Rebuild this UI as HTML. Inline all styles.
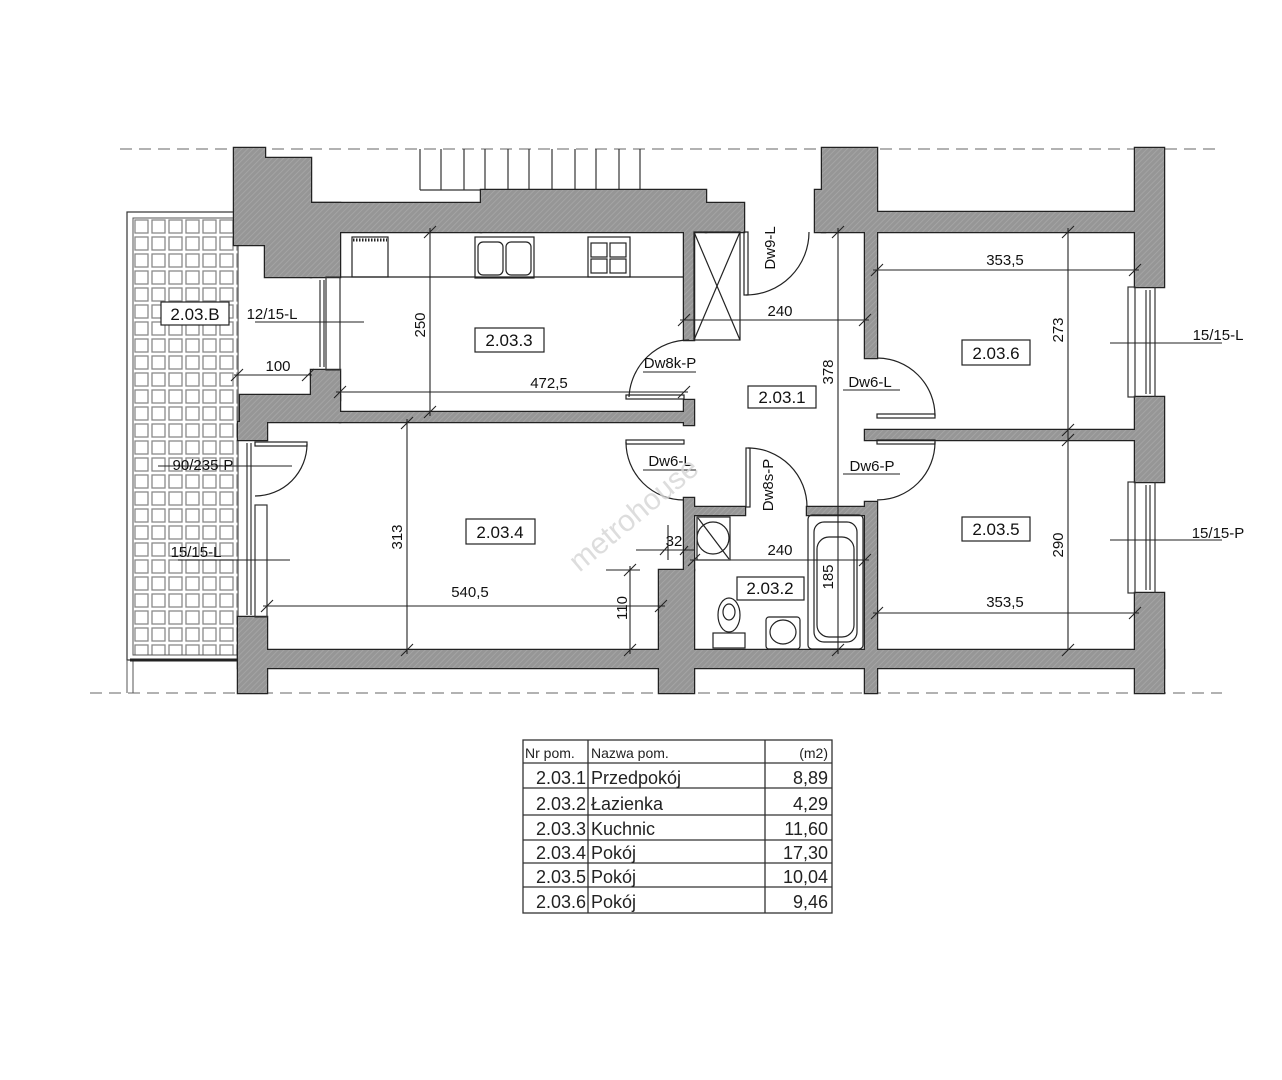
<!DOCTYPE html>
<html><head><meta charset="utf-8"><style>
html,body{margin:0;padding:0;background:#fff;}
svg{display:block;}
.t{font-family:"Liberation Sans",sans-serif;font-size:15px;fill:#111;}
.b{font-family:"Liberation Sans",sans-serif;font-size:17px;fill:#111;}
</style></head><body>
<svg width="1282" height="1080" viewBox="0 0 1282 1080" xmlns="http://www.w3.org/2000/svg">
<defs>
<pattern id="h" width="4" height="4" patternUnits="userSpaceOnUse" patternTransform="rotate(45)">
<rect width="4" height="4" fill="#969696"/><line x1="0" y1="0" x2="0" y2="4" stroke="#a8a8a8" stroke-width="1.5"/>
</pattern>
<pattern id="g" x="133" y="218" width="17" height="17" patternUnits="userSpaceOnUse">
<rect width="17" height="17" fill="#fff"/><rect x="2" y="2" width="13" height="13" fill="#fff" stroke="#8a8a8a" stroke-width="1.3"/>
</pattern>
</defs>
<line x1="120" y1="149" x2="1222" y2="149" stroke="#999" stroke-width="1.5" stroke-dasharray="12 7"/>
<line x1="90" y1="693" x2="1222" y2="693" stroke="#999" stroke-width="1.5" stroke-dasharray="12 7"/>
<rect x="127" y="212" width="111" height="448" fill="#fff" stroke="#333" stroke-width="1.2"/>
<rect x="133" y="218" width="105" height="437" fill="url(#g)" stroke="#555" stroke-width="1"/>
<line x1="127" y1="660" x2="127" y2="693" stroke="#555"/><line x1="133" y1="660" x2="133" y2="693" stroke="#555"/>
<line x1="130" y1="660" x2="238" y2="660" stroke="#222" stroke-width="3"/>
<g stroke="#333" stroke-width="1.2">
<line x1="420" y1="149" x2="420" y2="190"/><line x1="441" y1="149" x2="441" y2="190"/><line x1="464" y1="149" x2="464" y2="190"/><line x1="485" y1="149" x2="485" y2="190"/><line x1="508" y1="149" x2="508" y2="190"/><line x1="529" y1="149" x2="529" y2="190"/><line x1="552" y1="149" x2="552" y2="190"/><line x1="575" y1="149" x2="575" y2="190"/><line x1="596" y1="149" x2="596" y2="190"/><line x1="619" y1="149" x2="619" y2="190"/><line x1="640" y1="149" x2="640" y2="190"/>
<line x1="420" y1="190" x2="481" y2="190"/>
</g>
<g stroke="#222" stroke-width="2.5">
<rect x="234" y="148" width="31" height="97"/><rect x="265" y="158" width="46" height="119"/><rect x="311" y="203" width="29" height="74"/><rect x="311" y="203" width="170" height="29"/><rect x="481" y="190" width="225" height="42"/><rect x="706" y="203" width="38" height="29"/><rect x="311" y="370" width="29" height="30"/><rect x="240" y="395" width="100" height="27"/><rect x="340" y="412" width="344" height="10"/><rect x="238" y="422" width="29" height="18"/><rect x="238" y="617" width="29" height="76"/><rect x="238" y="650" width="926" height="18"/><rect x="659" y="570" width="35" height="123"/><rect x="865" y="502" width="12" height="191"/><rect x="1135" y="593" width="29" height="100"/><rect x="684" y="232" width="10" height="108"/><rect x="684" y="400" width="10" height="25"/><rect x="684" y="498" width="10" height="72"/><rect x="822" y="148" width="55" height="84"/><rect x="815" y="190" width="10" height="42"/><rect x="877" y="212" width="258" height="20"/><rect x="1135" y="148" width="29" height="139"/><rect x="1135" y="397" width="29" height="85"/><rect x="865" y="232" width="12" height="126"/><rect x="865" y="430" width="270" height="10"/><rect x="694" y="507" width="51" height="8"/><rect x="807" y="507" width="58" height="8"/>
</g>
<g fill="url(#h)">
<rect x="234" y="148" width="31" height="97"/><rect x="265" y="158" width="46" height="119"/><rect x="311" y="203" width="29" height="74"/><rect x="311" y="203" width="170" height="29"/><rect x="481" y="190" width="225" height="42"/><rect x="706" y="203" width="38" height="29"/><rect x="311" y="370" width="29" height="30"/><rect x="240" y="395" width="100" height="27"/><rect x="340" y="412" width="344" height="10"/><rect x="238" y="422" width="29" height="18"/><rect x="238" y="617" width="29" height="76"/><rect x="238" y="650" width="926" height="18"/><rect x="659" y="570" width="35" height="123"/><rect x="865" y="502" width="12" height="191"/><rect x="1135" y="593" width="29" height="100"/><rect x="684" y="232" width="10" height="108"/><rect x="684" y="400" width="10" height="25"/><rect x="684" y="498" width="10" height="72"/><rect x="822" y="148" width="55" height="84"/><rect x="815" y="190" width="10" height="42"/><rect x="877" y="212" width="258" height="20"/><rect x="1135" y="148" width="29" height="139"/><rect x="1135" y="397" width="29" height="85"/><rect x="865" y="232" width="12" height="126"/><rect x="865" y="430" width="270" height="10"/><rect x="694" y="507" width="51" height="8"/><rect x="807" y="507" width="58" height="8"/>
</g>
<g stroke="#333" stroke-width="1.2" fill="none">
<rect x="326" y="277" width="14" height="93"/><line x1="320" y1="280" x2="320" y2="367"/><line x1="324" y1="280" x2="324" y2="367"/>
<rect x="255" y="505" width="12" height="112"/><line x1="247" y1="443" x2="247" y2="615"/><line x1="251" y1="443" x2="251" y2="615"/>
<rect x="1128" y="287" width="7" height="110"/><line x1="1146" y1="290" x2="1146" y2="394"/><line x1="1150" y1="290" x2="1150" y2="394"/><line x1="1155" y1="287" x2="1155" y2="397"/>
<rect x="1128" y="482" width="7" height="111"/><line x1="1146" y1="485" x2="1146" y2="590"/><line x1="1150" y1="485" x2="1150" y2="590"/><line x1="1155" y1="482" x2="1155" y2="593"/>
</g>
<g stroke="#222" stroke-width="1.2" fill="none">
<rect x="626" y="395" width="58" height="4"/><path d="M629 397 A60 60 0 0 1 689 340"/>
<rect x="877" y="414" width="58" height="4"/><path d="M877 358 A58 58 0 0 1 935 416"/>
<rect x="626" y="440" width="58" height="4"/><path d="M626 442 A58 58 0 0 0 684 500"/>
<rect x="877" y="440" width="58" height="4"/><path d="M935 442 A58 58 0 0 1 877 500"/>
<rect x="746" y="448" width="4" height="59"/><path d="M748 448 A59 59 0 0 1 807 507"/>
<rect x="744" y="232" width="4" height="63"/><path d="M746 295 A63 63 0 0 0 809 232"/>
<rect x="255" y="442" width="52" height="4"/><path d="M307 444 A52 52 0 0 1 255 496"/>
</g>
<g stroke="#222" stroke-width="1.2" fill="none">
<line x1="340" y1="277" x2="684" y2="277"/>
<rect x="352" y="237" width="36" height="40"/><line x1="353" y1="240" x2="387" y2="240" stroke-dasharray="1.5 1.5" stroke-width="3"/>
<rect x="475" y="237" width="59" height="41"/><rect x="478" y="242" width="25" height="33" rx="5"/><rect x="506" y="242" width="25" height="33" rx="5"/>
<rect x="588" y="237" width="42" height="40"/><rect x="591" y="243" width="16" height="14"/><rect x="610" y="243" width="16" height="14"/><rect x="591" y="259" width="16" height="14"/><rect x="610" y="259" width="16" height="14"/>
<rect x="694" y="232" width="46" height="108"/><line x1="694" y1="232" x2="740" y2="340"/><line x1="740" y1="232" x2="694" y2="340"/>
</g>
<g stroke="#222" stroke-width="1.2" fill="none">
<rect x="697" y="517" width="33" height="43"/><circle cx="713" cy="538" r="16"/><line x1="698" y1="518" x2="729" y2="559"/>
<rect x="808" y="515" width="55" height="134" rx="4"/><rect x="814" y="522" width="43" height="120" rx="10"/><rect x="817" y="537" width="37" height="100" rx="12"/>
<rect x="713" y="633" width="32" height="15"/><ellipse cx="729" cy="615" rx="11" ry="17"/><ellipse cx="729" cy="612" rx="6" ry="8"/>
<rect x="766" y="617" width="34" height="32" rx="3"/><ellipse cx="783" cy="632" rx="13" ry="12"/>
</g>
<g stroke="#222" stroke-width="1.1">
<line x1="430" y1="228" x2="430" y2="416"/><line x1="424" y1="238" x2="436" y2="226"/><line x1="424" y1="418" x2="436" y2="406"/>
<line x1="336" y1="392" x2="688" y2="392"/><line x1="334" y1="398" x2="346" y2="386"/><line x1="678" y1="398" x2="690" y2="386"/>
<line x1="234" y1="375" x2="312" y2="375"/><line x1="231" y1="381" x2="243" y2="369"/><line x1="302" y1="381" x2="314" y2="369"/>
<line x1="255" y1="322" x2="364" y2="322"/>
<line x1="680" y1="320" x2="869" y2="320"/><line x1="678" y1="326" x2="690" y2="314"/><line x1="859" y1="326" x2="871" y2="314"/>
<line x1="838" y1="228" x2="838" y2="511"/><line x1="832" y1="238" x2="844" y2="226"/>
<line x1="873" y1="270" x2="1139" y2="270"/><line x1="871" y1="276" x2="883" y2="264"/><line x1="1129" y1="276" x2="1141" y2="264"/>
<line x1="1068" y1="228" x2="1068" y2="650"/><line x1="1062" y1="238" x2="1074" y2="226"/><line x1="1062" y1="436" x2="1074" y2="424"/><line x1="1062" y1="446" x2="1074" y2="434"/><line x1="1062" y1="656" x2="1074" y2="644"/>
<line x1="1110" y1="343" x2="1222" y2="343"/>
<line x1="1110" y1="540" x2="1222" y2="540"/>
<line x1="407" y1="419" x2="407" y2="654"/><line x1="401" y1="429" x2="413" y2="417"/><line x1="401" y1="656" x2="413" y2="644"/>
<line x1="263" y1="606" x2="665" y2="606"/><line x1="261" y1="612" x2="273" y2="600"/><line x1="655" y1="612" x2="667" y2="600"/>
<line x1="630" y1="566" x2="630" y2="654"/><line x1="624" y1="576" x2="636" y2="564"/><line x1="624" y1="656" x2="636" y2="644"/><line x1="606" y1="570" x2="640" y2="570"/>
<line x1="636" y1="550" x2="694" y2="550"/><line x1="660" y1="555" x2="668" y2="546"/><line x1="680" y1="555" x2="688" y2="546"/><line x1="668" y1="525" x2="668" y2="560"/>
<line x1="690" y1="560" x2="869" y2="560"/><line x1="688" y1="566" x2="700" y2="554"/><line x1="859" y1="566" x2="871" y2="554"/>
<line x1="838" y1="510" x2="838" y2="654"/><line x1="832" y1="656" x2="844" y2="644"/>
<line x1="873" y1="613" x2="1139" y2="613"/><line x1="871" y1="619" x2="883" y2="607"/><line x1="1129" y1="619" x2="1141" y2="607"/>
<line x1="158" y1="466" x2="292" y2="466"/><line x1="178" y1="560" x2="290" y2="560"/>
<line x1="643" y1="372" x2="696" y2="372"/><line x1="843" y1="390" x2="900" y2="390"/><line x1="643" y1="470" x2="696" y2="470"/><line x1="843" y1="474" x2="900" y2="474"/>
</g>
<g fill="#fff" stroke="#222" stroke-width="1.2">
<rect x="161" y="302" width="68" height="23"/><rect x="475" y="328" width="69" height="24"/><rect x="748" y="386" width="68" height="22"/><rect x="962" y="340" width="68" height="25"/><rect x="466" y="519" width="69" height="25"/><rect x="737" y="577" width="67" height="23"/><rect x="962" y="517" width="68" height="24"/>
</g>
<g class="b" text-anchor="middle">
<text x="195" y="320">2.03.B</text><text x="509" y="346">2.03.3</text><text x="782" y="403">2.03.1</text><text x="996" y="359">2.03.6</text><text x="500" y="538">2.03.4</text><text x="770" y="594">2.03.2</text><text x="996" y="535">2.03.5</text>
</g>
<g class="t" text-anchor="middle">
<text x="272" y="319">12/15-L</text><text x="278" y="371">100</text><text x="549" y="388">472,5</text>
<text x="780" y="316">240</text><text x="1005" y="265">353,5</text><text x="1218" y="340">15/15-L</text>
<text x="670" y="368">Dw8k-P</text><text x="870" y="387">Dw6-L</text><text x="670" y="466">Dw6-L</text><text x="872" y="471">Dw6-P</text>
<text x="203" y="470">90/235-P</text><text x="196" y="557">15/15-L</text><text x="470" y="597">540,5</text>
<text x="674" y="546">32</text><text x="780" y="555">240</text><text x="1005" y="607">353,5</text><text x="1218" y="538">15/15-P</text>
<text transform="translate(425,325) rotate(-90)">250</text>
<text transform="translate(833,372) rotate(-90)">378</text>
<text transform="translate(1063,330) rotate(-90)">273</text>
<text transform="translate(402,537) rotate(-90)">313</text>
<text transform="translate(627,608) rotate(-90)">110</text>
<text transform="translate(833,577) rotate(-90)">185</text>
<text transform="translate(1063,545) rotate(-90)">290</text>
<text transform="translate(775,248) rotate(-90)">Dw9-L</text>
<text transform="translate(773,485) rotate(-90)">Dw8s-P</text>
</g>
<text transform="translate(640,522) rotate(-40)" text-anchor="middle" font-family="Liberation Sans,sans-serif" font-size="30" fill="#d4d4d4" fill-opacity="0.8">metrohouse</text>
<g stroke="#333" stroke-width="1.3" fill="none">
<rect x="523" y="740" width="309" height="173"/>
<line x1="588" y1="740" x2="588" y2="913"/><line x1="765" y1="740" x2="765" y2="913"/>
<line x1="523" y1="763" x2="832" y2="763"/><line x1="523" y1="788" x2="832" y2="788"/><line x1="523" y1="815" x2="832" y2="815"/><line x1="523" y1="840" x2="832" y2="840"/><line x1="523" y1="863" x2="832" y2="863"/><line x1="523" y1="887" x2="832" y2="887"/>
</g>
<g font-family="Liberation Sans,sans-serif" fill="#222">
<text x="525" y="758" font-size="14">Nr  pom.</text><text x="591" y="758" font-size="14">Nazwa  pom.</text><text x="828" y="758" font-size="14" text-anchor="end">(m2)</text>
<g font-size="18">
<text x="586" y="784" text-anchor="end">2.03.1</text><text x="591" y="784">Przedpokój</text><text x="828" y="784" text-anchor="end">8,89</text>
<text x="586" y="810" text-anchor="end">2.03.2</text><text x="591" y="810">Łazienka</text><text x="828" y="810" text-anchor="end">4,29</text>
<text x="586" y="835" text-anchor="end">2.03.3</text><text x="591" y="835">Kuchnic</text><text x="828" y="835" text-anchor="end">11,60</text>
<text x="586" y="859" text-anchor="end">2.03.4</text><text x="591" y="859">Pokój</text><text x="828" y="859" text-anchor="end">17,30</text>
<text x="586" y="883" text-anchor="end">2.03.5</text><text x="591" y="883">Pokój</text><text x="828" y="883" text-anchor="end">10,04</text>
<text x="586" y="908" text-anchor="end">2.03.6</text><text x="591" y="908">Pokój</text><text x="828" y="908" text-anchor="end">9,46</text>
</g></g>
</svg>
</body></html>
